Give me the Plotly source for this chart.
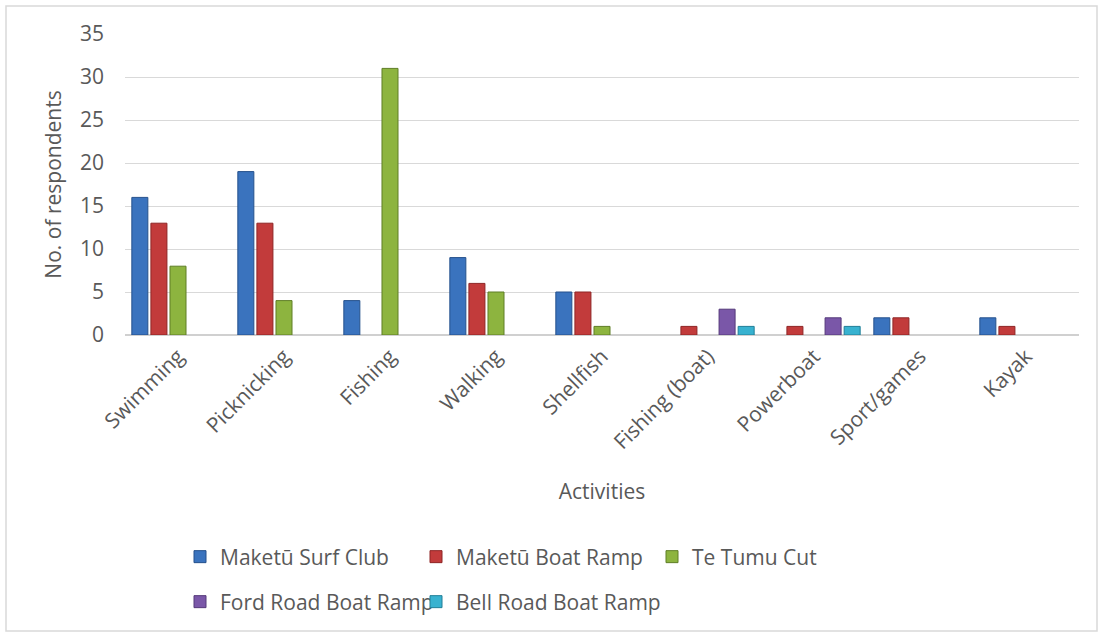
import plotly.graph_objects as go

# Activities surveyed at each site
activities = ["Swimming", "Picknicking", "Fishing", "Walking", "Shellfish",
              "Fishing (boat)", "Powerboat", "Sport/games", "Kayak"]

surf_club = [16, 19, 4, 9, 5, 0, 0, 2, 2]
maketu_boat_ramp = [13, 13, 0, 6, 5, 1, 1, 2, 1]
te_tumu_cut = [8, 4, 31, 5, 1, 0, 0, 0, 0]
ford_road = [0, 0, 0, 0, 0, 3, 2, 0, 0]
bell_road = [0, 0, 0, 0, 0, 1, 1, 0, 0]

series = [
    ("Maketū Surf Club", surf_club, "#3A73BE", "#25518C", "legend"),
    ("Maketū Boat Ramp", maketu_boat_ramp, "#C23B3B", "#8E2525", "legend"),
    ("Te Tumu Cut", te_tumu_cut, "#8DB43F", "#5F7E26", "legend"),
    ("Ford Road Boat Ramp", ford_road, "#7A57A8", "#553A7A", "legend2"),
    ("Bell Road Boat Ramp", bell_road, "#38B2D0", "#217F98", "legend2"),
]

FONT = "Open Sans, Liberation Sans, sans-serif"
TEXT = "#595959"
FS = 21

fig = go.Figure()
for name, vals, color, edge, leg in series:
    # zero counts are left empty so no outline is drawn on the baseline
    fig.add_trace(go.Bar(
        x=activities, y=[v if v else None for v in vals], name=name, legend=leg,
        marker=dict(color=color, line=dict(color=edge, width=1)),
    ))

W, H = 1103, 632
L, R, T, B = 125, 24, 34, 297
pw, ph = W - L - R, H - T - B


def px_x(x):
    return (x - L) / pw


def px_y(y):
    return (H - B - y) / ph


legend_style = dict(
    orientation="h", x=px_x(192), xanchor="left", yanchor="middle",
    entrywidth=203, entrywidthmode="pixels", indentation=-12,
    font=dict(size=FS, color=TEXT), bgcolor="rgba(0,0,0,0)",
)

fig.update_layout(
    width=W, height=H,
    margin=dict(l=L, r=R, t=T, b=B, autoexpand=False),
    paper_bgcolor="white", plot_bgcolor="white",
    barmode="group", bargap=0.1, bargroupgap=0.16,
    font=dict(family=FONT, size=FS, color=TEXT),
    xaxis=dict(
        tickangle=-45, ticklabelstandoff=4, showgrid=False,
        showline=False, ticks="",
        tickfont=dict(size=FS, color=TEXT),
        title=dict(text="Activities", standoff=30, font=dict(size=FS, color=TEXT)),
        automargin=False,
    ),
    yaxis=dict(
        range=[0, 35], dtick=5, showgrid=True, gridcolor="#D9D9D9", gridwidth=1,
        zeroline=True, zerolinecolor="#D0D0D0", zerolinewidth=2,
        ticks="", ticklabelstandoff=20, tickfont=dict(size=FS, color=TEXT),
        title=dict(text="No. of respondents", standoff=12, font=dict(size=FS, color=TEXT)),
        automargin=False,
    ),
    legend=dict(legend_style, y=px_y(557)),
    legend2=dict(legend_style, y=px_y(602)),
    shapes=[dict(
        type="rect", xref="paper", yref="paper",
        x0=px_x(6), x1=px_x(1097), y0=px_y(631), y1=px_y(6),
        line=dict(color="#D9D9D9", width=1.5), fillcolor="rgba(0,0,0,0)", layer="below",
    )],
)

fig.write_html("out.html")
